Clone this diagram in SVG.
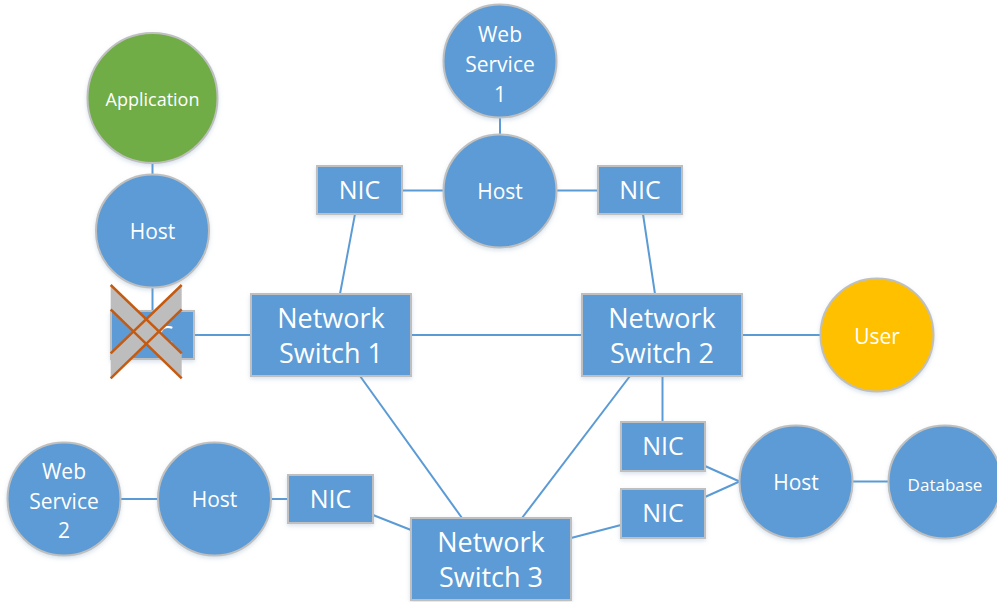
<svg xmlns="http://www.w3.org/2000/svg" width="997" height="602" viewBox="0 0 997 602">
<defs>
<style>
.bg{fill:#ffffff}
.c{stroke:#5B9BD5;stroke-width:2;fill:none}
.n{fill:#5B9BD5;stroke:#BFBFBF;stroke-width:2;filter:url(#sh)}
.g{fill:#70AD47;stroke:#BFBFBF;stroke-width:2;filter:url(#sh)}
.y{fill:#FFC000;stroke:#BFBFBF;stroke-width:2;filter:url(#sh)}
text{font-family:"Open Sans","Liberation Sans",sans-serif;fill:#ffffff;text-anchor:middle}
.t21{font-size:21px}
.t25{font-size:25px}
.t27{font-size:27px}
.t18{font-size:18px}
.t17{font-size:17px}
.xg{fill:#BDBDBD}
.xo{stroke:#C55A11;stroke-width:2.5;fill:none}
</style>
<filter id="sh" x="-20%" y="-20%" width="140%" height="150%">
<feDropShadow dx="0" dy="2" stdDeviation="2" flood-color="#7f9fbf" flood-opacity="0.3"/>
</filter>
</defs>
<rect class="bg" x="0" y="0" width="997" height="602"/>
<g id="connectors">
<line class="c" x1="152.5" y1="163" x2="152.5" y2="175"/>
<line class="c" x1="152.5" y1="287" x2="152.5" y2="311"/>
<line class="c" x1="194" y1="335" x2="251" y2="335"/>
<line class="c" x1="500" y1="117" x2="500" y2="134"/>
<line class="c" x1="402" y1="190.5" x2="443" y2="190.5"/>
<line class="c" x1="557" y1="190.5" x2="598" y2="190.5"/>
<line class="c" x1="355" y1="214" x2="340" y2="294"/>
<line class="c" x1="643" y1="214" x2="655" y2="294"/>
<line class="c" x1="411" y1="335" x2="582" y2="335"/>
<line class="c" x1="742" y1="335" x2="820" y2="335"/>
<line class="c" x1="360" y1="376" x2="462" y2="518"/>
<line class="c" x1="630" y1="376" x2="522" y2="518"/>
<line class="c" x1="662.5" y1="376" x2="662.5" y2="422"/>
<line class="c" x1="121" y1="499" x2="157" y2="499"/>
<line class="c" x1="272" y1="499" x2="288" y2="499"/>
<line class="c" x1="373" y1="515" x2="411" y2="530"/>
<line class="c" x1="571" y1="538" x2="621" y2="525"/>
<line class="c" x1="705" y1="466" x2="739.5" y2="481.5"/>
<line class="c" x1="705" y1="497" x2="739.5" y2="481.5"/>
<line class="c" x1="853" y1="481.5" x2="888" y2="481.5"/>
</g>
<g id="application">
<circle class="g" cx="152.5" cy="98" r="65"/>
<text class="t18" x="152.5" y="106">Application</text>
</g>
<g id="host-left">
<circle class="n" cx="152.5" cy="231" r="56.5"/>
<text class="t21" x="152.5" y="239">Host</text>
</g>
<g id="nic-left-failed">
<rect class="n" x="111" y="311" width="83" height="48"/>
<text class="t25" x="152.5" y="344">NIC</text>
</g>
<g id="web-service-1">
<circle class="n" cx="500" cy="61" r="56.5"/>
<text class="t21" x="500" y="42">Web</text>
<text class="t21" x="500" y="72">Service</text>
<text class="t21" x="500" y="102">1</text>
</g>
<g id="host-top">
<circle class="n" cx="500" cy="191" r="56.5"/>
<text class="t21" x="500" y="199">Host</text>
</g>
<g id="nic-top-left">
<rect class="n" x="317" y="166" width="85" height="48"/>
<text class="t25" x="359.5" y="199">NIC</text>
</g>
<g id="nic-top-right">
<rect class="n" x="598" y="166" width="84" height="48"/>
<text class="t25" x="640" y="199">NIC</text>
</g>
<g id="switch-1">
<rect class="n" x="251" y="294" width="160" height="82"/>
<text class="t27" x="331" y="327.5">Network</text>
<text class="t27" x="331" y="362.5">Switch 1</text>
</g>
<g id="switch-2">
<rect class="n" x="582" y="294" width="160" height="82"/>
<text class="t27" x="662" y="327.5">Network</text>
<text class="t27" x="662" y="362.5">Switch 2</text>
</g>
<g id="user">
<circle class="y" cx="877" cy="335" r="56.5"/>
<text class="t21" x="877" y="344">User</text>
</g>
<g id="web-service-2">
<circle class="n" cx="64" cy="499" r="56.5"/>
<text class="t21" x="64" y="479">Web</text>
<text class="t21" x="64" y="509">Service</text>
<text class="t21" x="64" y="538">2</text>
</g>
<g id="host-bottom-left">
<circle class="n" cx="214.5" cy="499" r="56.5"/>
<text class="t21" x="214.5" y="507">Host</text>
</g>
<g id="nic-bottom-left">
<rect class="n" x="288" y="475" width="85" height="48"/>
<text class="t25" x="330.5" y="508">NIC</text>
</g>
<g id="switch-3">
<rect class="n" x="411" y="518" width="160" height="82"/>
<text class="t27" x="491" y="551.5">Network</text>
<text class="t27" x="491" y="586.5">Switch 3</text>
</g>
<g id="nic-right-upper">
<rect class="n" x="621" y="422" width="84" height="49"/>
<text class="t25" x="663" y="455">NIC</text>
</g>
<g id="nic-right-lower">
<rect class="n" x="621" y="489" width="84" height="49"/>
<text class="t25" x="663" y="522">NIC</text>
</g>
<g id="host-right">
<circle class="n" cx="796" cy="482" r="56.5"/>
<text class="t21" x="796" y="490">Host</text>
</g>
<g id="database">
<circle class="n" cx="945" cy="482" r="56.5"/>
<text class="t17" x="945" y="490.5">Database</text>
</g>
<g id="failure-cross">
<polygon class="xg" points="110.7,285 181.7,353.3 181.7,378.3 110.7,309.3"/>
<polygon class="xg" points="181.7,285 110.7,353.3 110.7,378.3 181.7,309.3"/>
<line class="xo" x1="110.7" y1="285" x2="181.7" y2="353.3"/>
<line class="xo" x1="110.7" y1="309.3" x2="181.7" y2="378.3"/>
<line class="xo" x1="181.7" y1="285" x2="110.7" y2="353.3"/>
<line class="xo" x1="181.7" y1="309.3" x2="110.7" y2="378.3"/>
</g>
</svg>
